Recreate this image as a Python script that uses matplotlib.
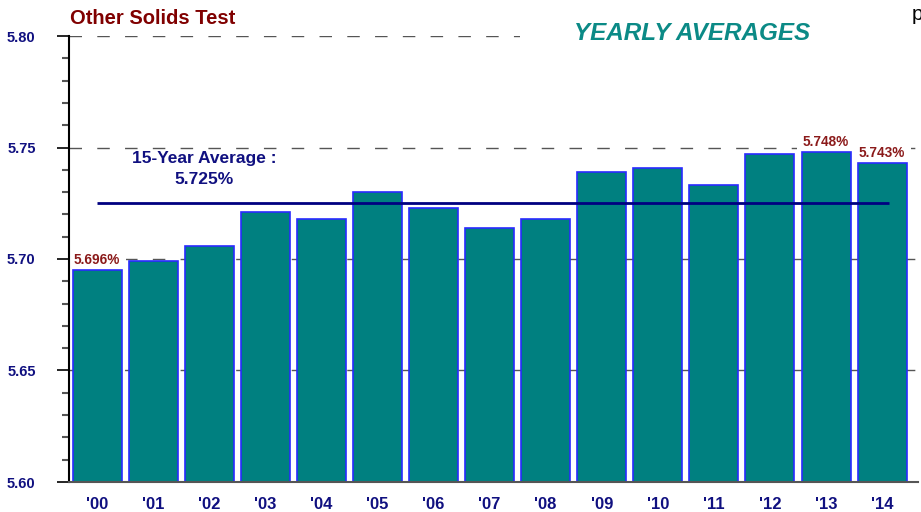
import matplotlib
matplotlib.use("Agg")
import matplotlib.pyplot as plt
from matplotlib.ticker import MultipleLocator
from matplotlib.patches import Rectangle

years = ["'00", "'01", "'02", "'03", "'04", "'05", "'06", "'07", "'08", "'09", "'10", "'11", "'12", "'13", "'14"]
values = [5.695, 5.699, 5.706, 5.721, 5.718, 5.730, 5.723, 5.714, 5.718, 5.739, 5.741, 5.733, 5.747, 5.748, 5.743]
labeled = {0: "5.696%", 13: "5.748%", 14: "5.743%"}
avg_value = 5.725
avg_text = "15-Year Average :\n5.725%"
yticks = [5.60, 5.65, 5.70, 5.75, 5.80]

plt.rcParams['font.family'] = ['Liberation Sans', 'DejaVu Sans']

fig = plt.figure(figsize=(9.21, 5.12), dpi=100)
ax = fig.add_axes([69/921, 1-482/512, (918-69)/921, (482-36)/512])

x = list(range(len(years)))
ax.bar(x, [v - 5.60 for v in values], bottom=5.60, width=0.875,
       color='#008080', edgecolor='#2a2aff', linewidth=1.2, zorder=3)

ax.set_xlim(-0.5, 14.64)
ax.set_ylim(5.60, 5.80)
ax.set_yticks(yticks)
ax.set_yticklabels([f"{t:.2f}" for t in yticks], color='#101080', fontweight='bold', fontsize=10.5)
ax.yaxis.set_minor_locator(MultipleLocator(0.01))
ax.tick_params(axis='y', which='major', length=9, width=1.2, color='black', pad=15)
ax.tick_params(axis='y', which='minor', length=5, width=1.5, color='#555555')
ax.set_xticks(x)
ax.set_xticklabels(years, color='#101080', fontweight='bold', fontsize=12)
ax.tick_params(axis='x', direction='in', length=10, width=1.2, color='#222222', pad=11)
for t in ax.get_xticklines():
    t.set_zorder(5)

ax.yaxis.grid(True, which='major', linestyle=(0, (9, 11)), color='#555555', linewidth=1.0, zorder=1)
ax.set_axisbelow(True)
for s in ['top', 'right']:
    ax.spines[s].set_visible(False)
ax.spines['left'].set_color('black')
ax.spines['left'].set_linewidth(1.5)
ax.spines['bottom'].set_color('#555555')
ax.spines['bottom'].set_linewidth(1.5)
ax.spines['bottom'].set_zorder(4)

ax.hlines(avg_value, 0, 14.12, color='#000080', linewidth=2, zorder=4)
ax.text(1.91, 5.7402, avg_text, ha='center', va='center', color='#101080',
        fontweight='bold', fontsize=12.5, linespacing=1.5, zorder=6)

for i, lab in labeled.items():
    ax.text(i, values[i] + 0.0015, lab, ha='center', va='bottom', color='#8b1a1a',
            fontweight='bold', fontsize=9.8, zorder=2.5,
            bbox=dict(facecolor='white', edgecolor='none', pad=4))

# white panel behind the heading on the right
fig.patches.append(Rectangle((520/921, 1-46/512), 401/921, 22/512, transform=fig.transFigure,
                             facecolor='white', edgecolor='none', zorder=10))

fig.text(70/921, 1-18/512, "Other Solids Test", color='#800000', fontweight='bold',
         fontsize=14.5, va='center', ha='left')
fig.text(692/921, 1-33/512, "YEARLY AVERAGES", color='#0b8a86', fontweight='bold',
         fontstyle='italic', fontsize=17.5, va='center', ha='center', zorder=11)
fig.text(912/921, 1-15/512, "p", color='black', fontsize=15, va='center', ha='left')

fig.savefig("out.png", dpi=100)
